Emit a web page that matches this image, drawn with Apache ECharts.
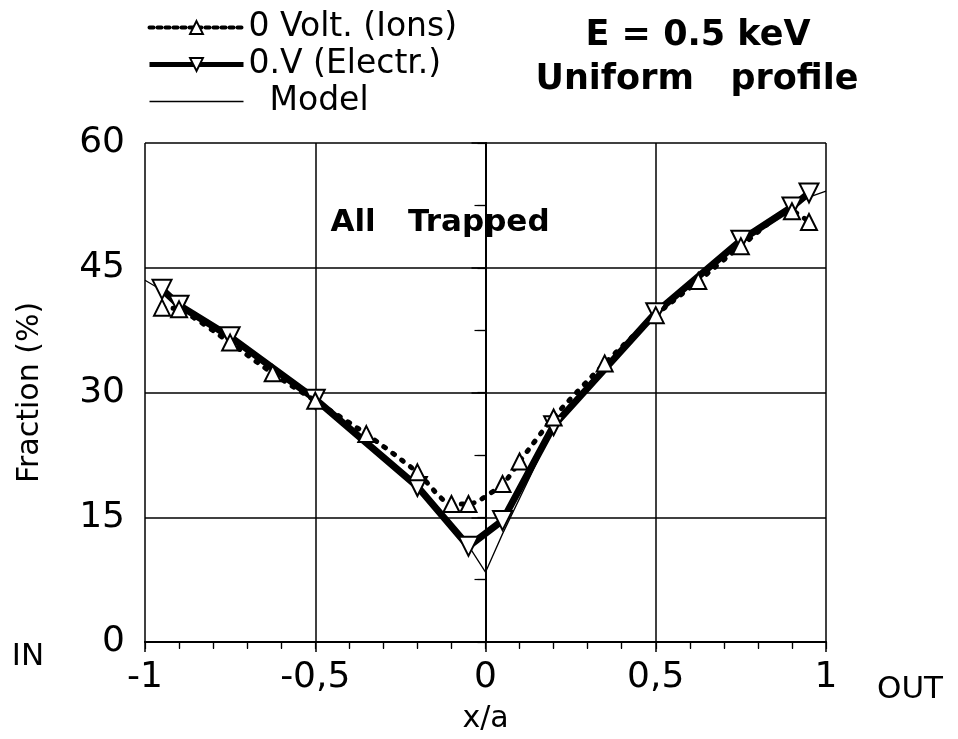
<!DOCTYPE html>
<html>
<head>
<meta charset="utf-8">
<style>html,body{margin:0;padding:0;background:#fff;}#c{width:958px;height:739px;}</style>
<script src="https://cdn.jsdelivr.net/npm/echarts@6/dist/echarts.min.js"></script>
</head>
<body>
<div id="c"></div>
<script>
// Data
const ionX = [-0.95, -0.9, -0.75, -0.625, -0.5, -0.35, -0.2, -0.1, -0.05, 0.05, 0.1, 0.2, 0.35, 0.5, 0.625, 0.75, 0.9, 0.95];
const ionY = [40.2, 40.0, 36.0, 32.3, 29.0, 25.0, 20.4, 16.6, 16.6, 19.0, 21.7, 27.0, 33.5, 39.3, 43.4, 47.6, 51.8, 50.5];
const elX = [-0.95, -0.9, -0.75, -0.5, -0.2, -0.05, 0.05, 0.2, 0.5, 0.75, 0.9, 0.95];
const elY = [42.4, 40.5, 36.7, 29.2, 18.7, 11.5, 14.6, 26.0, 39.6, 48.3, 52.3, 54.0];
const modelX = [-1, -0.95, -0.9, -0.75, -0.5, -0.2, -0.05, 0, 0.05, 0.2, 0.5, 0.75, 0.9, 0.95, 1];
const modelY = [43.5, 42.3, 40.6, 36.6, 29.2, 18.6, 11.6, 8.4, 13.0, 25.8, 39.6, 48.2, 52.2, 53.5, 54.2];
const seriesNames = ['0 Volt. (Ions)', '0.V (Electr.)', 'Model'];
const xTicks = [-1, -0.5, 0, 0.5, 1];
const yTicks = [0, 15, 30, 45, 60];

const pair = (xs, ys) => xs.map((x, i) => [x, ys[i]]);
const FONT = 'DejaVu Sans';
const chart = echarts.init(document.getElementById('c'), null, {renderer: 'canvas'});

const baseAxisLine = {show: true, lineStyle: {color: '#000', width: 2}};
const option = {
  backgroundColor: '#fff',
  animation: false,
  textStyle: {fontFamily: FONT, color: '#000'},
  grid: {left: 145, right: 132, top: 143, bottom: 89, containLabel: false},
  legend: {
    orient: 'vertical', left: 142, top: 6, itemWidth: 94, itemHeight: 16, itemGap: 4,
    textStyle: {fontFamily: FONT, fontSize: 33, lineHeight: 26, color: '#000'},
    formatter: n => n === 'Model' ? '  ' + n : n,
    data: [
      {name: seriesNames[0], lineStyle: {width: 4, type: [4, 4]}},
      {name: seriesNames[1], lineStyle: {width: 5}},
      {name: seriesNames[2], lineStyle: {width: 1.3}, itemStyle: {opacity: 0, borderWidth: 0}}
    ]
  },
  xAxis: [{
    type: 'value', min: xTicks[0], max: xTicks[xTicks.length - 1], interval: 0.5,
    axisLine: baseAxisLine,
    axisTick: {show: true, length: 10, lineStyle: {color: '#000', width: 1.5}},
    minorTick: {show: true, splitNumber: 5, length: 7, lineStyle: {color: '#000', width: 1.2}},
    splitLine: {show: true, lineStyle: {color: '#000', width: 1.5}},
    axisLabel: {fontFamily: FONT, fontSize: 36, color: '#000', margin: 18,
      formatter: v => String(v).replace('.', ',')},
    name: 'x/a', nameLocation: 'middle', nameGap: 62,
    nameTextStyle: {fontFamily: FONT, fontSize: 30, color: '#000'}
  }, {
    type: 'value', position: 'top', min: -1, max: 1, interval: 0.5,
    axisLine: baseAxisLine,
    axisTick: {show: true, inside: true, length: 7, lineStyle: {color: '#000', width: 1.2}},
    minorTick: {show: true, splitNumber: 5, length: 6, lineStyle: {color: '#000', width: 1.2}},
    axisLabel: {show: false}, splitLine: {show: false}
  }],
  yAxis: [{
    type: 'value', min: yTicks[0], max: yTicks[yTicks.length - 1], interval: 15,
    axisLine: baseAxisLine,
    axisTick: {show: true, length: 14, lineStyle: {color: '#000', width: 1.5}},
    minorTick: {show: true, splitNumber: 2, length: 11, lineStyle: {color: '#000', width: 1.2}},
    splitLine: {show: true, lineStyle: {color: '#000', width: 1.5}},
    axisLabel: {fontFamily: FONT, fontSize: 36, color: '#000', margin: 20},
    name: 'Fraction (%)', nameLocation: 'middle', nameGap: 100,
    nameTextStyle: {fontFamily: FONT, fontSize: 30, color: '#000'}
  }, {
    type: 'value', position: 'right', min: 0, max: 60, interval: 15,
    axisLine: baseAxisLine,
    axisTick: {show: true, inside: true, length: 8, lineStyle: {color: '#000', width: 1.2}},
    minorTick: {show: true, splitNumber: 2, length: 8, lineStyle: {color: '#000', width: 1.2}},
    axisLabel: {show: false}, splitLine: {show: false}
  }],
  series: [{
    name: seriesNames[2], type: 'line', data: pair(modelX, modelY), z: 2,
    showSymbol: false, symbol: 'none', smooth: false,
    lineStyle: {color: '#000', width: 1.3}, itemStyle: {color: '#000'}
  }, {
    name: seriesNames[1], type: 'line', data: pair(elX, elY), z: 3,
    smooth: false, symbol: 'triangle', symbolRotate: 180, symbolSize: 19,
    lineStyle: {color: '#000', width: 7, join: 'round'},
    itemStyle: {color: '#fff', borderColor: '#000', borderWidth: 2}
  }, {
    name: seriesNames[0], type: 'line', data: pair(ionX, ionY), z: 4,
    smooth: 0.25, symbol: 'triangle', symbolSize: 16,
    lineStyle: {color: '#000', width: 5, type: [2, 9], cap: 'round'},
    itemStyle: {color: '#fff', borderColor: '#000', borderWidth: 2}
  }],
  graphic: [
    {type: 'text', position: [698, 36], style: {text: 'E = 0.5 keV', font: 'bold 35px "DejaVu Sans"', fill: '#000', textAlign: 'center', textVerticalAlign: 'middle'}},
    {type: 'text', position: [697, 80], style: {text: 'Uniform   profile', font: 'bold 35px "DejaVu Sans"', fill: '#000', textAlign: 'center', textVerticalAlign: 'middle'}},
    {type: 'text', position: [440, 223], z: 10, style: {text: 'All   Trapped', font: 'bold 31px "DejaVu Sans"', fill: '#000', textAlign: 'center', textVerticalAlign: 'middle'}},
    {type: 'text', position: [28, 657], style: {text: 'IN', font: '31px "DejaVu Sans"', fill: '#000', textAlign: 'center', textVerticalAlign: 'middle'}},
    {type: 'text', position: [910, 690], style: {text: 'OUT', font: '31px "DejaVu Sans"', fill: '#000', textAlign: 'center', textVerticalAlign: 'middle'}}
  ]
};
chart.setOption(option);
</script>
</body>
</html>
